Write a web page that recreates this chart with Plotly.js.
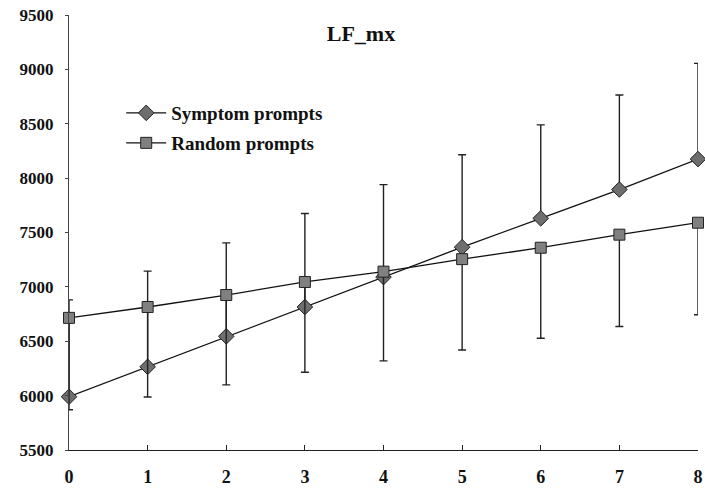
<!DOCTYPE html>
<html>
<head>
<meta charset="utf-8">
<script src="https://cdn.plot.ly/plotly-3.0.1.min.js"></script>
<style>html,body{margin:0;padding:0;background:#fff;}#chart{width:705px;height:495px;}</style>
</head>
<body>
<div id="chart"></div>
<script>
const xValues = [0, 1, 2, 3, 4, 5, 6, 7, 8];
const symptomMean = [5990, 6265, 6545, 6815, 7090, 7365, 7630, 7895, 8175];
const symptomErrUp = [890, 880, 860, 860, 850, 850, 860, 870, 880];
const randomMean = [6715, 6815, 6925, 7045, 7140, 7255, 7360, 7480, 7590];
const randomErrDown = [845, 828, 826, 830, 820, 835, 832, 845, 847];
const yTicks = [5500, 6000, 6500, 7000, 7500, 8000, 8500, 9000, 9500];

const serif = '"Liberation Serif", "Times New Roman", serif';

const traces = [
  {
    x: xValues, y: symptomMean, name: 'Symptom prompts', type: 'scatter', mode: 'lines+markers',
    line: {color: '#111', width: 1.3},
    marker: {symbol: 'diamond', size: 12, color: '#6e6e6e', line: {color: '#222', width: 1}},
    error_y: {type: 'data', symmetric: false, array: symptomErrUp, arrayminus: xValues.map(() => 0),
              color: '#222', thickness: 1.4, width: 4},
    cliponaxis: false, legend: 'legend'
  },
  {
    x: xValues, y: randomMean, name: 'Random prompts', type: 'scatter', mode: 'lines+markers',
    line: {color: '#111', width: 1.3},
    marker: {symbol: 'square', size: 11, color: '#808080', line: {color: '#222', width: 1}},
    error_y: {type: 'data', symmetric: false, array: xValues.map(() => 0), arrayminus: randomErrDown,
              color: '#222', thickness: 1.4, width: 4},
    cliponaxis: false, legend: 'legend2'
  }
];

const legendCommon = {
  bgcolor: 'rgba(0,0,0,0)', borderwidth: 0, itemwidth: 40,
  font: {family: serif, size: 19, color: '#111', weight: 'bold'},
  xanchor: 'left', yanchor: 'middle', xref: 'paper', yref: 'paper'
};

const layout = {
  width: 705, height: 495,
  margin: {l: 69, r: 7, t: 15, b: 45},
  paper_bgcolor: '#fff', plot_bgcolor: '#fff',
  showlegend: true,
  title: {text: '<b>LF_mx</b>', x: 0.512, xanchor: 'center', y: 0.932, yanchor: 'middle',
          font: {family: serif, size: 22, color: '#111'}},
  xaxis: {
    range: [0, 8], tickvals: xValues, ticktext: xValues.map(String),
    showgrid: false, zeroline: false, showline: true, linecolor: '#222', linewidth: 1.3,
    ticks: 'inside', ticklen: 5, tickcolor: '#222', ticklabeloverflow: 'allow',
    tickfont: {family: serif, size: 18, color: '#111', weight: 'bold'}, ticklabelstandoff: 10
  },
  yaxis: {
    range: [5500, 9500], tickvals: yTicks, ticktext: yTicks.map(String),
    showgrid: false, zeroline: false, showline: true, linecolor: '#444', linewidth: 1.2,
    ticks: 'outside', ticklen: 3, tickcolor: '#444', ticklabeloverflow: 'allow',
    tickfont: {family: serif, size: 17, color: '#111', weight: 'bold'}, ticklabelstandoff: 8
  },
  legend: Object.assign({}, legendCommon, {x: 0.083, y: (450 - 113) / 435}),
  legend2: Object.assign({}, legendCommon, {x: 0.083, y: (450 - 143) / 435})
};

Plotly.newPlot('chart', traces, layout, {displayModeBar: false, staticPlot: true});
</script>
</body>
</html>
